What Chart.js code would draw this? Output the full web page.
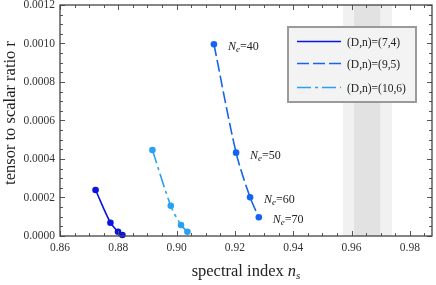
<!DOCTYPE html>
<html><head><meta charset="utf-8">
<script src="https://cdn.jsdelivr.net/npm/chart.js@4"></script>
<style>html,body{margin:0;padding:0;background:#fff}#wrap{width:436px;height:285px}</style>
</head><body><div id="wrap"><canvas id="c" width="436" height="285"></canvas></div>
<script>
const seriesNames = ['(D,n)=(7,4)', '(D,n)=(9,5)', '(D,n)=(10,6)'];
const ns74 = [0.8722, 0.8773, 0.8799, 0.8814];
const r74 = [0.000239, 0.0000691, 0.0000223, 0.0000052];
const ns95 = [0.9128, 0.9204, 0.9252, 0.9282];
const r95 = [0.000996, 0.000433, 0.000201, 0.0000971];
const ns106 = [0.8917, 0.8980, 0.9015, 0.9037];
const r106 = [0.000447, 0.000157, 0.0000571, 0.0000223];
const efolds = [40, 50, 60, 70];
const xTicks = [0.86, 0.88, 0.90, 0.92, 0.94, 0.96, 0.98];
const yTicks = [0, 0.0002, 0.0004, 0.0006, 0.0008, 0.0010, 0.0012];
const band2sigma = [0.9571, 0.9739];
const band1sigma = [0.9609, 0.9698];

const SERIF = '"Liberation Serif","Times New Roman",serif';
const colors = ['#0a14e0', '#1464f0', '#28a2f0'];
const dashes = [[], [12, 4], [14, 4, 3, 4]];

function pts(xs, ys) { return xs.map((x, i) => ({x: x, y: ys[i]})); }
const dataSets = [pts(ns74, r74), pts(ns95, r95), pts(ns106, r106)];

const frameAndDeco = {
  id: 'deco',
  beforeDatasetsDraw(chart) {
    const {ctx, chartArea: a, scales: {x}} = chart;
    ctx.save();
    ctx.fillStyle = '#f1f1f1';
    let x0 = x.getPixelForValue(band2sigma[0]), x1 = x.getPixelForValue(band2sigma[1]);
    ctx.fillRect(x0, a.top, x1 - x0, a.bottom - a.top);
    ctx.fillStyle = '#e2e2e2';
    x0 = x.getPixelForValue(band1sigma[0]); x1 = x.getPixelForValue(band1sigma[1]);
    ctx.fillRect(x0, a.top, x1 - x0, a.bottom - a.top);
    ctx.restore();
  },
  afterDatasetsDraw(chart) {
    const {ctx, chartArea: a, scales: {x, y}} = chart;
    ctx.save();
    ctx.strokeStyle = '#555';
    ctx.lineWidth = 1;
    ctx.beginPath();
    for (let k = 0; ; k++) {
      const v = xTicks[0] + k * 0.005;
      if (v > x.max + 1e-9) break;
      const px = Math.round(x.getPixelForValue(v)) + 0.5;
      const L = (k % 4 === 0) ? 5 : 3;
      ctx.moveTo(px, a.bottom); ctx.lineTo(px, a.bottom - L);
      ctx.moveTo(px, a.top); ctx.lineTo(px, a.top + L);
    }
    for (let k = 0; ; k++) {
      const v = yTicks[0] + k * 0.00005;
      if (v > y.max + 1e-12) break;
      const py = Math.round(y.getPixelForValue(v)) + 0.5;
      const L = (k % 4 === 0) ? 5 : 3;
      ctx.moveTo(a.left, py); ctx.lineTo(a.left + L, py);
      ctx.moveTo(a.right, py); ctx.lineTo(a.right - L, py);
    }
    ctx.stroke();
    ctx.strokeStyle = '#444';
    ctx.lineWidth = 1.3;
    ctx.strokeRect(a.left, a.top, a.right - a.left, a.bottom - a.top);

    // N_e labels
    const meta = chart.getDatasetMeta(1);
    ctx.fillStyle = '#222';
    ctx.textBaseline = 'alphabetic';
    meta.data.forEach((p, i) => {
      let tx = p.x + 14, ty = p.y + 6;
      ctx.font = 'italic 12px ' + SERIF;
      ctx.fillText('N', tx, ty); tx += ctx.measureText('N').width;
      ctx.font = 'italic 9px ' + SERIF;
      ctx.fillText('e', tx, ty + 2); tx += ctx.measureText('e').width;
      ctx.font = '12px ' + SERIF;
      ctx.fillText('=' + efolds[i], tx, ty);
    });

    // axis titles
    ctx.fillStyle = '#222';
    const t1 = 'spectral index ';
    ctx.font = '16.5px ' + SERIF; const w1 = ctx.measureText(t1).width;
    ctx.font = 'italic 16.5px ' + SERIF; const w2 = ctx.measureText('n').width;
    ctx.font = 'italic 11px ' + SERIF; const w3 = ctx.measureText('s').width;
    let sx = (a.left + a.right) / 2 - (w1 + w2 + w3) / 2;
    const by = 276;
    ctx.font = '16.5px ' + SERIF; ctx.fillText(t1, sx, by); sx += w1;
    ctx.font = 'italic 16.5px ' + SERIF; ctx.fillText('n', sx, by); sx += w2;
    ctx.font = 'italic 11px ' + SERIF; ctx.fillText('s', sx, by + 3);

    ctx.save();
    ctx.translate(15, 113);
    ctx.rotate(-Math.PI / 2);
    ctx.font = '16.5px ' + SERIF;
    ctx.textAlign = 'center';
    ctx.fillText('tensor to scalar ratio r', 0, 0);
    ctx.restore();

    // legend
    const lx = 288, ly = 27, lw = 128, lh = 75;
    ctx.fillStyle = '#f3f3f3';
    ctx.fillRect(lx, ly, lw, lh);
    ctx.strokeStyle = '#9a9a9a';
    ctx.lineWidth = 2;
    ctx.strokeRect(lx, ly, lw, lh);
    const rows = [41.5, 63.5, 87.5];
    seriesNames.forEach((n, i) => {
      ctx.strokeStyle = colors[i];
      ctx.lineWidth = 1.6;
      ctx.setLineDash(dashes[i]);
      ctx.beginPath();
      ctx.moveTo(297, rows[i]); ctx.lineTo(341, rows[i]);
      ctx.stroke();
      ctx.setLineDash([]);
      ctx.fillStyle = '#222';
      ctx.font = '11.5px ' + SERIF;
      ctx.textBaseline = 'middle';
      ctx.fillText(n, 347, rows[i] + 1);
    });
    ctx.restore();
  }
};

new Chart(document.getElementById('c'), {
  type: 'scatter',
  data: {
    datasets: dataSets.map((d, i) => ({
      label: seriesNames[i],
      data: d,
      showLine: true,
      borderColor: colors[i],
      backgroundColor: colors[i],
      borderWidth: 1.6,
      borderDash: dashes[i],
      pointRadius: 3.3,
      pointBorderWidth: 0,
      tension: 0.3,
      clip: false
    }))
  },
  options: {
    responsive: false,
    animation: false,
    devicePixelRatio: 1,
    layout: {padding: {top: 5, right: 4, left: 0, bottom: 0}},
    plugins: {legend: {display: false}, tooltip: {enabled: false}},
    scales: {
      x: {
        type: 'linear', min: 0.86, max: 0.9876,
        grid: {display: false, drawTicks: false},
        border: {display: false},
        afterBuildTicks: s => { s.ticks = xTicks.map(v => ({value: v})); },
        afterFit: s => { s.height = 49; s.paddingLeft = 0; s.paddingRight = 0; },
        ticks: {
          padding: 5, color: '#333', maxRotation: 0, autoSkip: false,
          font: {family: SERIF, size: 11.5},
          callback: v => Number(v).toFixed(2)
        }
      },
      y: {
        type: 'linear', min: 0, max: 0.0012,
        grid: {display: false, drawTicks: false},
        border: {display: false},
        afterBuildTicks: s => { s.ticks = yTicks.map(v => ({value: v})); },
        afterFit: s => { s.width = 60; s.paddingTop = 0; s.paddingBottom = 0; },
        ticks: {
          padding: 5, color: '#333', autoSkip: false,
          font: {family: SERIF, size: 11.5},
          callback: v => Number(v).toFixed(4)
        }
      }
    }
  },
  plugins: [frameAndDeco]
});
</script></body></html>
